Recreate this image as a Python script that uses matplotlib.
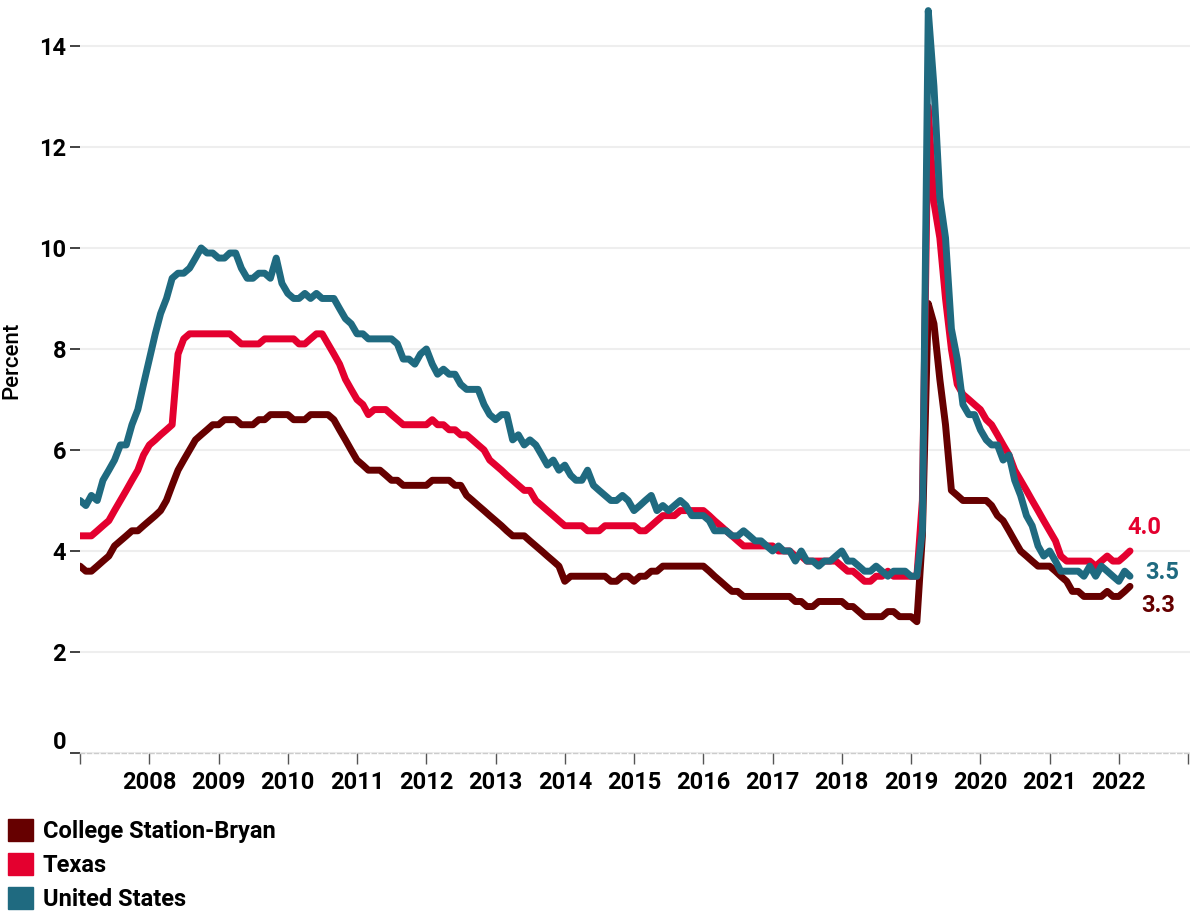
import pandas as pd
import matplotlib
matplotlib.use("Agg")
import matplotlib.pyplot as plt
import matplotlib.dates as mdates
from matplotlib.patches import Patch
from matplotlib.transforms import ScaledTranslation

# monthly unemployment rate (seasonally adjusted), Jan 2008 - Mar 2023
months = pd.date_range("2008-01-01", "2023-03-01", freq="MS")

csb = [
    3.7, 3.6, 3.6, 3.7, 3.8, 3.9, 4.1, 4.2, 4.3, 4.4, 4.4, 4.5,
    4.6, 4.7, 4.8, 5.0, 5.3, 5.6, 5.8, 6.0, 6.2, 6.3, 6.4, 6.5,
    6.5, 6.6, 6.6, 6.6, 6.5, 6.5, 6.5, 6.6, 6.6, 6.7, 6.7, 6.7,
    6.7, 6.6, 6.6, 6.6, 6.7, 6.7, 6.7, 6.7, 6.6, 6.4, 6.2, 6.0,
    5.8, 5.7, 5.6, 5.6, 5.6, 5.5, 5.4, 5.4, 5.3, 5.3, 5.3, 5.3,
    5.3, 5.4, 5.4, 5.4, 5.4, 5.3, 5.3, 5.1, 5.0, 4.9, 4.8, 4.7,
    4.6, 4.5, 4.4, 4.3, 4.3, 4.3, 4.2, 4.1, 4.0, 3.9, 3.8, 3.7,
    3.4, 3.5, 3.5, 3.5, 3.5, 3.5, 3.5, 3.5, 3.4, 3.4, 3.5, 3.5,
    3.4, 3.5, 3.5, 3.6, 3.6, 3.7, 3.7, 3.7, 3.7, 3.7, 3.7, 3.7,
    3.7, 3.6, 3.5, 3.4, 3.3, 3.2, 3.2, 3.1, 3.1, 3.1, 3.1, 3.1,
    3.1, 3.1, 3.1, 3.1, 3.0, 3.0, 2.9, 2.9, 3.0, 3.0, 3.0, 3.0,
    3.0, 2.9, 2.9, 2.8, 2.7, 2.7, 2.7, 2.7, 2.8, 2.8, 2.7, 2.7,
    2.7, 2.6, 4.3, 8.9, 8.5, 7.4, 6.5, 5.2, 5.1, 5.0, 5.0, 5.0,
    5.0, 5.0, 4.9, 4.7, 4.6, 4.4, 4.2, 4.0, 3.9, 3.8, 3.7, 3.7,
    3.7, 3.6, 3.5, 3.4, 3.2, 3.2, 3.1, 3.1, 3.1, 3.1, 3.2, 3.1,
    3.1, 3.2, 3.3,
]

texas = [
    4.3, 4.3, 4.3, 4.4, 4.5, 4.6, 4.8, 5.0, 5.2, 5.4, 5.6, 5.9,
    6.1, 6.2, 6.3, 6.4, 6.5, 7.9, 8.2, 8.3, 8.3, 8.3, 8.3, 8.3,
    8.3, 8.3, 8.3, 8.2, 8.1, 8.1, 8.1, 8.1, 8.2, 8.2, 8.2, 8.2,
    8.2, 8.2, 8.1, 8.1, 8.2, 8.3, 8.3, 8.1, 7.9, 7.7, 7.4, 7.2,
    7.0, 6.9, 6.7, 6.8, 6.8, 6.8, 6.7, 6.6, 6.5, 6.5, 6.5, 6.5,
    6.5, 6.6, 6.5, 6.5, 6.4, 6.4, 6.3, 6.3, 6.2, 6.1, 6.0, 5.8,
    5.7, 5.6, 5.5, 5.4, 5.3, 5.2, 5.2, 5.0, 4.9, 4.8, 4.7, 4.6,
    4.5, 4.5, 4.5, 4.5, 4.4, 4.4, 4.4, 4.5, 4.5, 4.5, 4.5, 4.5,
    4.5, 4.4, 4.4, 4.5, 4.6, 4.7, 4.7, 4.7, 4.8, 4.8, 4.8, 4.8,
    4.8, 4.7, 4.6, 4.5, 4.4, 4.3, 4.2, 4.1, 4.1, 4.1, 4.1, 4.1,
    4.1, 4.0, 4.0, 4.0, 3.9, 3.9, 3.8, 3.8, 3.8, 3.8, 3.8, 3.8,
    3.7, 3.6, 3.6, 3.5, 3.4, 3.4, 3.5, 3.5, 3.6, 3.5, 3.5, 3.5,
    3.5, 3.5, 5.0, 12.8, 10.9, 10.2, 9.0, 8.0, 7.3, 7.1, 7.0, 6.9,
    6.8, 6.6, 6.5, 6.3, 6.1, 5.9, 5.6, 5.4, 5.2, 5.0, 4.8, 4.6,
    4.4, 4.2, 3.9, 3.8, 3.8, 3.8, 3.8, 3.8, 3.7, 3.8, 3.9, 3.8,
    3.8, 3.9, 4.0,
]

us = [
    5.0, 4.9, 5.1, 5.0, 5.4, 5.6, 5.8, 6.1, 6.1, 6.5, 6.8, 7.3,
    7.8, 8.3, 8.7, 9.0, 9.4, 9.5, 9.5, 9.6, 9.8, 10.0, 9.9, 9.9,
    9.8, 9.8, 9.9, 9.9, 9.6, 9.4, 9.4, 9.5, 9.5, 9.4, 9.8, 9.3,
    9.1, 9.0, 9.0, 9.1, 9.0, 9.1, 9.0, 9.0, 9.0, 8.8, 8.6, 8.5,
    8.3, 8.3, 8.2, 8.2, 8.2, 8.2, 8.2, 8.1, 7.8, 7.8, 7.7, 7.9,
    8.0, 7.7, 7.5, 7.6, 7.5, 7.5, 7.3, 7.2, 7.2, 7.2, 6.9, 6.7,
    6.6, 6.7, 6.7, 6.2, 6.3, 6.1, 6.2, 6.1, 5.9, 5.7, 5.8, 5.6,
    5.7, 5.5, 5.4, 5.4, 5.6, 5.3, 5.2, 5.1, 5.0, 5.0, 5.1, 5.0,
    4.8, 4.9, 5.0, 5.1, 4.8, 4.9, 4.8, 4.9, 5.0, 4.9, 4.7, 4.7,
    4.7, 4.6, 4.4, 4.4, 4.4, 4.3, 4.3, 4.4, 4.3, 4.2, 4.2, 4.1,
    4.0, 4.1, 4.0, 4.0, 3.8, 4.0, 3.8, 3.8, 3.7, 3.8, 3.8, 3.9,
    4.0, 3.8, 3.8, 3.7, 3.6, 3.6, 3.7, 3.6, 3.5, 3.6, 3.6, 3.6,
    3.5, 3.5, 4.4, 14.7, 13.2, 11.0, 10.2, 8.4, 7.8, 6.9, 6.7, 6.7,
    6.4, 6.2, 6.1, 6.1, 5.8, 5.9, 5.4, 5.1, 4.7, 4.5, 4.1, 3.9,
    4.0, 3.8, 3.6, 3.6, 3.6, 3.6, 3.5, 3.7, 3.5, 3.7, 3.6, 3.5,
    3.4, 3.6, 3.5,
]

series_names = ["College Station-Bryan", "Texas", "United States"]
series_colors = ["#660000", "#e4002f", "#1f6a80"]

# the source chart labels each January tick with the previous year
tick_years = list(range(2008, 2025))
tick_labels = [""] + [str(y - 1) for y in tick_years[1:-1]] + [""]

plt.rcParams["font.family"] = ["Roboto", "DejaVu Sans"]
plt.rcParams["font.weight"] = "bold"

fig = plt.figure(figsize=(11.9, 9.11), dpi=100)
ax = fig.add_axes([80 / 1190, 158 / 911, 1110 / 1190, 753 / 911])

for vals, name, col in zip([csb, texas, us], series_names, series_colors):
    ax.plot(months, vals, color=col, lw=5.0, solid_capstyle="round",
            solid_joinstyle="round", label=name, zorder=3)

# end-of-line value labels
ends = [(csb, series_colors[0], (11, -19)),
        (texas, series_colors[1], (-3, 23)),
        (us, series_colors[2], (15, 4))]
for vals, col, off in ends:
    ax.annotate(f"{vals[-1]:.1f}", xy=(months[-1], vals[-1]), xytext=off,
                textcoords="offset pixels", color=col, fontsize=17,
                ha="left", va="center")

ax.set_ylim(0, 14.91)
x0 = mdates.date2num(pd.Timestamp("2008-01-01"))
x1 = mdates.date2num(pd.Timestamp("2024-01-01"))
ax.set_xlim(x0, x1 + (x1 - x0) * 2 / 1108)

ax.set_xticks([pd.Timestamp(f"{y}-01-01") for y in tick_years])
ax.set_xticklabels(tick_labels, fontsize=17)
ax.set_yticks([0, 2, 4, 6, 8, 10, 12, 14])
ax.set_yticklabels(["0", "2", "4", "6", "8", "10", "12", "14"], fontsize=17)
ax.tick_params(axis="y", length=7, width=1.2, color="#222222", pad=3)
ax.tick_params(axis="x", length=8, width=1, color="#555555", pad=5)

# lift the zero label above the baseline like the original
zero = ax.get_yticklabels()[0]
zero.set_transform(zero.get_transform() + ScaledTranslation(0, 0.13, fig.dpi_scale_trans))

ax.grid(axis="y", color="#eeeeee", lw=1.5, zorder=0)
for s in ["top", "right", "left"]:
    ax.spines[s].set_visible(False)
ax.spines["bottom"].set_color("#cccccc")
ax.spines["bottom"].set_linestyle((0, (3, 2)))
ax.spines["bottom"].set_linewidth(1)

ax.set_ylabel("Percent", fontsize=16, fontweight="medium")
ax.yaxis.set_label_coords(-0.052, 0.522)

handles = [Patch(color=c, label=n) for n, c in zip(series_names, series_colors)]
fig.legend(handles=handles, loc="upper left", bbox_to_anchor=(8 / 1190, 1 - 819 / 911),
           frameon=False, fontsize=17, handlelength=1.05, handleheight=1.05,
           handletextpad=0.42, labelspacing=0.42, borderpad=0, borderaxespad=0)

fig.savefig("out.png", dpi=100)
